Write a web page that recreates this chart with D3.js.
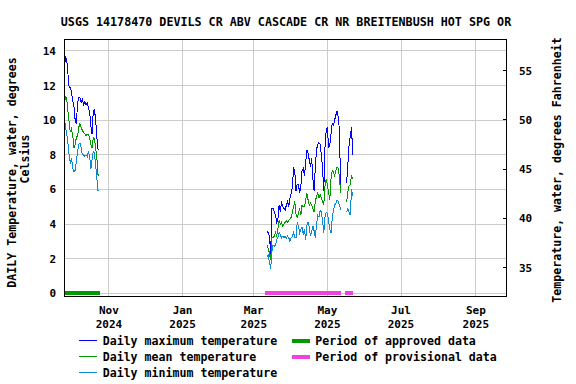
<!DOCTYPE html>
<html>
<head>
<meta charset="utf-8">
<script src="https://cdn.jsdelivr.net/npm/d3@7"></script>
<style>
  body { margin: 0; background: #fff; }
  text { font-family: "DejaVu Sans Mono", monospace; font-weight: bold; fill: #000; }
</style>
</head>
<body>
<svg id="chart" width="576" height="384"></svg>
<script>
// ── data ──────────────────────────────────────────────────────
const TITLE = "USGS 14178470 DEVILS CR ABV CASCADE CR NR BREITENBUSH HOT SPG OR";

// daily series, each block starts on its date and runs one value per day
const segStarts = ["2024-09-25", "2025-03-12", "2025-05-17"];

const maxFall   = [12.9, 13.7, 13.5, 12.7, 11.9, 11.9, 11.6, 11.1, 10.8, 10.0, 9.8, 11.0, 11.3, 11.3, 11.0,
                   11.2, 10.9, 11.1, 10.9, 11.0, 10.7, 10.5, 9.7, 9.2, 10.5, 10.6, 10.0, 9.0, 8.3];
const meanFall  = [10.8, 11.4, 11.2, 10.5, 9.9, 9.3, 9.5, 9.1, 8.4, 8.6, 9.0, 9.1, 9.6, 9.8, 9.6,
                   9.4, 9.3, 9.2, 9.1, 9.2, 9.2, 9.0, 8.6, 8.4, 9.0, 8.9, 8.4, 7.8, 6.8];
const minFall   = [10.2, 9.6, 9.2, 8.7, 8.0, 7.5, 7.8, 7.2, 7.0, 7.1, 7.6, 8.2, 8.6, 8.7, 8.4,
                   8.0, 8.0, 7.9, 8.0, 7.9, 8.2, 7.9, 7.2, 7.7, 8.2, 8.1, 7.4, 6.6, 5.9];

const maxSpring = [3.6, 3.5, 3.3, 2.3, 4.9, 4.9, 4.7, 4.5, 4.1, 4.3, 5.1, 4.7, 5.3, 5.0, 4.9, 4.8,
                   5.1, 5.3, 5.0, 5.5, 5.8, 6.1, 7.3, 7.0, 5.9, 6.3, 6.3, 5.8, 6.2, 7.1, 7.2, 6.8,
                   7.5, 8.3, 8.1, 7.7, 7.3, 7.8, 6.6, 5.9, 7.3, 8.3, 8.6, 8.7, 8.6, 8.0, 7.2, 5.9,
                   8.4, 9.4, 9.6, 8.4, 8.6, 9.2, 9.8, 9.7, 10.0, 10.3, 10.5, 10.2, 9.4, 6.0];
const meanSpring = [2.8, 2.6, 2.3, 1.9, 3.2, 3.2, 3.3, 3.5, 3.3, 3.7, 4.2, 4.0, 4.1, 3.9, 4.0, 4.1,
                   4.2, 4.1, 4.2, 4.3, 4.4, 4.7, 5.0, 5.3, 4.6, 4.4, 4.6, 4.9, 4.5, 5.1, 5.0, 5.0,
                   5.4, 5.8, 5.4, 5.1, 5.2, 5.1, 4.9, 4.7, 5.3, 5.6, 5.8, 5.5, 5.7, 5.5, 5.3, 5.1,
                   6.2, 6.6, 6.3, 5.8, 5.4, 6.6, 7.1, 7.0, 6.8, 7.1, 7.3, 7.2, 6.7, 5.8];
const minSpring = [2.1, 2.2, 1.8, 1.4, 2.4, 2.8, 2.7, 2.8, 3.1, 3.2, 3.5, 3.4, 3.2, 3.3, 3.2, 3.3,
                   3.2, 3.3, 3.2, 3.0, 3.2, 3.3, 3.5, 3.2, 3.2, 4.1, 3.9, 3.5, 3.7, 3.8, 3.4, 3.7,
                   3.1, 3.9, 4.1, 3.8, 3.3, 3.6, 3.9, 3.6, 3.2, 4.0, 4.5, 4.4, 4.8, 4.7, 4.2, 3.5,
                   4.4, 4.7, 4.6, 4.2, 3.7, 3.5, 4.3, 4.8, 5.1, 5.2, 5.4, 5.3, 5.1, 4.8];

const maxLate   = [6.4, 7.5, 8.6, 9.1, 9.6, 8.0];
const meanLate  = [5.3, 5.9, 6.2, 6.3, 6.8, 6.6];
const minLate   = [4.7, 4.9, 4.7, 4.5, 6.0, 5.6];

// approval periods [start, end]
const approvedPeriods    = [["2024-09-24T12:00", "2024-10-24T12:00"]];
const provisionalPeriods = [["2025-03-10T12:00", "2025-05-12T12:00"], ["2025-05-15T12:00", "2025-05-22T12:00"]];

const leftTicks  = [0, 2, 4, 6, 8, 10, 12, 14];
const rightTicks = [35, 40, 45, 50, 55];

// ── layout ────────────────────────────────────────────────────
const X0 = 64.3, X1 = 506, Y0 = 39.7, Y1 = 296;
const COL_MAX = "#0000ff", COL_MEAN = "#009900", COL_MIN = "#0b8bd4";
const COL_APPROVED = "#009900", COL_PROV = "#ee44dd";

const parse = d3.utcParse("%Y-%m-%d");
const parseT = d3.utcParse("%Y-%m-%dT%H:%M");

function build(blocks) {
  // blocks: [[startStr, values], ...] -> points with null gaps
  const out = [];
  blocks.forEach(([s, vals], k) => {
    if (k > 0) out.push(null);
    const start = parse(s);
    vals.forEach((v, i) => out.push({ date: d3.utcDay.offset(start, i), v }));
  });
  return out;
}

const series = [
  { color: COL_MAX,  pts: build([[segStarts[0], maxFall],  [segStarts[1], maxSpring],  [segStarts[2], maxLate]]) },
  { color: COL_MEAN, pts: build([[segStarts[0], meanFall], [segStarts[1], meanSpring], [segStarts[2], meanLate]]) },
  { color: COL_MIN,  pts: build([[segStarts[0], minFall],  [segStarts[1], minSpring],  [segStarts[2], minLate]]) }
];

const svg = d3.select("#chart");

const x = d3.scaleUtc().domain([parse("2024-09-25"), parse("2025-09-26")]).range([X0, X1]);
const y = d3.scaleLinear().domain([-0.155, 14.65]).range([Y1, Y0]);
const yF = d3.scaleLinear().domain([32.11, 58.16]).range([Y1, Y0]);

// title
svg.append("text")
  .attr("x", 286).attr("y", 26)
  .attr("text-anchor", "middle")
  .style("font-size", "11.7px")
  .text(TITLE);

// gridlines
const grid = svg.append("g").attr("shape-rendering", "crispEdges").attr("stroke", "#cccccc");
leftTicks.forEach(t => grid.append("line").attr("x1", X0).attr("x2", X1).attr("y1", y(t)).attr("y2", y(t)));
const xTicks = x.ticks(d3.utcMonth.every(2)).filter(d => d >= x.domain()[0]);
xTicks.forEach(t => grid.append("line").attr("x1", x(t)).attr("x2", x(t)).attr("y1", Y0).attr("y2", Y1));

// approval bars
const bars = svg.append("g").attr("shape-rendering", "crispEdges");
function period(list, colour) {
  list.forEach(([a, b]) => {
    bars.append("rect")
      .attr("x", x(parseT(a))).attr("width", x(parseT(b)) - x(parseT(a)))
      .attr("y", y(0) - 2).attr("height", 4)
      .attr("fill", colour);
  });
}
period(approvedPeriods, COL_APPROVED);
period(provisionalPeriods, COL_PROV);

// series lines (aliased, like the original raster plot)
const line = d3.line().defined(d => d !== null).x(d => x(d.date)).y(d => y(d.v));
series.forEach(s => {
  svg.append("path")
    .datum(s.pts)
    .attr("fill", "none")
    .attr("stroke", s.color)
    .attr("stroke-width", 1)
    .attr("shape-rendering", "crispEdges")
    .attr("d", line);
});

// frame
svg.append("rect")
  .attr("x", X0).attr("y", Y0).attr("width", X1 - X0).attr("height", Y1 - Y0)
  .attr("fill", "none").attr("stroke", "#000").attr("shape-rendering", "crispEdges");

// left axis labels
svg.append("g").selectAll("text").data(leftTicks).join("text")
  .attr("x", 56).attr("y", d => y(d) + 4)
  .attr("text-anchor", "end")
  .style("font-size", "11px")
  .text(d => d);

// right axis ticks + labels
const rg = svg.append("g");
rg.selectAll("line").data(rightTicks).join("line")
  .attr("x1", X1 - 3).attr("x2", X1).attr("y1", d => yF(d)).attr("y2", d => yF(d))
  .attr("stroke", "#000").attr("shape-rendering", "crispEdges");
rg.selectAll("text").data(rightTicks).join("text")
  .attr("x", 519).attr("y", d => yF(d) + 4)
  .style("font-size", "11px")
  .text(d => d);

// x axis labels
const fmtM = d3.utcFormat("%b"), fmtY = d3.utcFormat("%Y");
const xl = svg.append("g").selectAll("g").data(xTicks).join("g");
xl.append("text").attr("x", d => x(d)).attr("y", 314).attr("text-anchor", "middle")
  .style("font-size", "11px").text(fmtM);
xl.append("text").attr("x", d => x(d)).attr("y", 327.5).attr("text-anchor", "middle")
  .style("font-size", "11px").text(fmtY);

// axis titles
svg.append("text")
  .attr("transform", "translate(16,172.5) rotate(-90)")
  .attr("text-anchor", "middle")
  .style("font-size", "11.6px")
  .text("DAILY Temperature, water, degrees");
svg.append("text")
  .attr("transform", "translate(28.5,159) rotate(-90)")
  .attr("text-anchor", "middle")
  .style("font-size", "11.6px")
  .text("Celsius");
svg.append("text")
  .attr("transform", "translate(561,170) rotate(-90)")
  .attr("text-anchor", "middle")
  .style("font-size", "11.6px")
  .text("Temperature, water, degrees Fahrenheit");

// legend
const legendLines = [
  [COL_MAX, "Daily maximum temperature"],
  [COL_MEAN, "Daily mean temperature"],
  [COL_MIN, "Daily minimum temperature"]
];
const legendBars = [
  [COL_APPROVED, "Period of approved data"],
  [COL_PROV, "Period of provisional data"]
];
const rowY = [340.5, 356.5, 372.5];
const lg = svg.append("g");
legendLines.forEach(([c, label], i) => {
  lg.append("line").attr("x1", 79.3).attr("x2", 96.7).attr("y1", rowY[i]).attr("y2", rowY[i])
    .attr("stroke", c).attr("stroke-width", 1.2).attr("shape-rendering", "crispEdges");
  lg.append("text").attr("x", 102.7).attr("y", rowY[i] + 4).style("font-size", "11.6px").text(label);
});
legendBars.forEach(([c, label], i) => {
  lg.append("rect").attr("x", 292.3).attr("width", 17.4).attr("y", rowY[i] - 2).attr("height", 4)
    .attr("fill", c).attr("shape-rendering", "crispEdges");
  lg.append("text").attr("x", 315.3).attr("y", rowY[i] + 4).style("font-size", "11.6px").text(label);
});
</script>
</body>
</html>
